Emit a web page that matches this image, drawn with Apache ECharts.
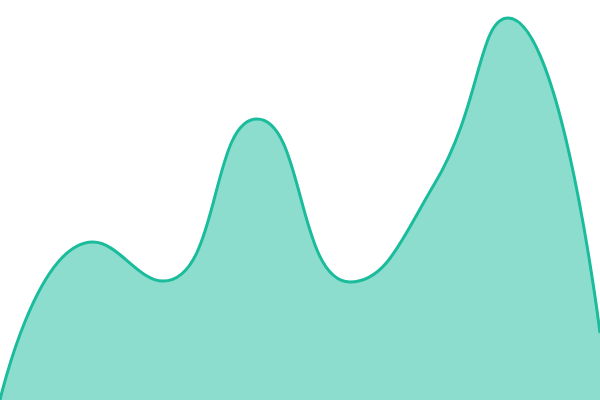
<!DOCTYPE html>
<html>
<head>
<meta charset="utf-8">
<script src="https://cdn.jsdelivr.net/npm/echarts@6/dist/echarts.min.js"></script>
<style>
  html, body { margin: 0; padding: 0; background: #fff; }
  #main { width: 600px; height: 400px; }
</style>
</head>
<body>
<div id="main"></div>
<script>
// 数据（x 位置 + 数值）
const xs = [0, 93, 163, 257, 350, 435, 508, 600]
const values = [0, 158, 119, 281, 118, 217, 382, 67]

const myChart = echarts.init(document.querySelector('#main'))
const option = {
  animation: false,
  grid: { left: 0, right: 0, top: 0, bottom: 0 },
  xAxis: {
    type: 'value',
    min: 0,
    max: 600,
    show: false
  },
  yAxis: {
    type: 'value',
    min: 0,
    max: 400,
    show: false
  },
  series: [
    {
      type: 'line',
      smooth: true,
      symbol: 'none',
      data: xs.map((x, i) => [x, values[i]]),
      lineStyle: { color: '#1abc9c', width: 3 },
      areaStyle: { color: '#1abc9c', opacity: 0.5 }
    }
  ]
}
myChart.setOption(option)
</script>
</body>
</html>
